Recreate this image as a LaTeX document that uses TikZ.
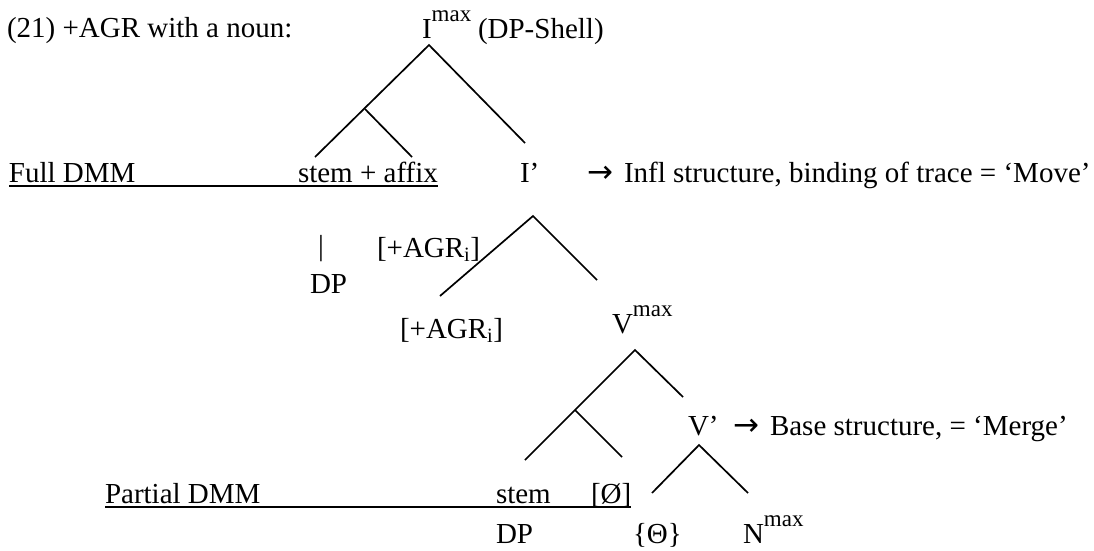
\documentclass[tikz,border=0pt]{standalone}
\usepackage{fontspec}
\setmainfont{Liberation Serif}
\newfontfamily\arrowfont{DejaVu Sans}
\newcommand\supx[1]{\raisebox{17pt}{\fontsize{23}{26}\selectfont #1}}
\begin{document}
\begin{tikzpicture}[x=1pt,y=-1pt,
  txt/.style={anchor=base west,inner sep=0pt,outer sep=0pt,font=\fontsize{29}{34}\selectfont},
  arrowsign/.style={anchor=base west,inner sep=0pt,outer sep=0pt,font=\fontsize{31}{34}\arrowfont},
  branch/.style={line width=1.7pt},
  uline/.style={line width=2.6pt}]
\useasboundingbox (0,0) rectangle (1094,550);

% ---- labels
\node[txt] (title) at (7,37) {(21) +AGR with a noun:};
\node[txt] (Imax) at (422,38) {I\supx{max}};
\node[txt] (shell) at (478,38) {(DP-Shell)};
\node[txt] (full) at (9,182) {Full DMM};
\node[txt] (stemaffix) at (298,182) {stem + affix};
\node[txt] (Ibar) at (520,182) {I’};
\node[arrowsign] (arr1) at (587,182) {→};
\node[txt] (move) at (624,182) {Infl structure, binding of trace = ‘Move’};
\node[txt] (bar) at (318,255) {|};
\node[txt] (agr1) at (377,257) {[+AGR\textsubscript{i}]};
\node[txt] (dp1) at (310,293) {DP};
\node[txt] (agr2) at (400,338) {[+AGR\textsubscript{i}]};
\node[txt] (Vmax) at (612,333) {V\supx{max}};
\node[txt] (Vbar) at (688,435) {V’};
\node[arrowsign] (arr2) at (733,435) {→};
\node[txt] (merge) at (770,435) {Base structure, = ‘Merge’};
\node[txt] (partial) at (105,503) {Partial DMM};
\node[txt] (stem) at (496,503) {stem};
\node[txt] (empty) at (591,503) {[Ø]};
\node[txt] (dp2) at (496,543) {DP};
\node[txt] (theta) at (633,543) {\{Θ\}};
\node[txt] (Nmax) at (743,543) {N\supx{max}};

% ---- underlines of the two DMM rows
\draw[uline] ([yshift=-4pt]full.base west) -- ([yshift=-4pt]stemaffix.base east);
\draw[uline] ([yshift=-4pt]partial.base west) -- ([yshift=-4pt]empty.base east);

% ---- branch points
\coordinate (imaxTop) at (429,45);
\coordinate (iLeft) at (315,157);
\coordinate (iJunc) at (365,109);
\coordinate (iSub) at (412,157);
\coordinate (iRight) at (525,143);

\coordinate (ibarTop) at (533,216);
\coordinate (ibarLeft) at (440,296);
\coordinate (ibarRight) at (597,280);

\coordinate (vmaxTop) at (635,350);
\coordinate (vLeft) at (525,460);
\coordinate (vJunc) at (575,410);
\coordinate (vSub) at (622,457);
\coordinate (vRight) at (683,397);

\coordinate (vbarTop) at (699,445);
\coordinate (vbarLeft) at (652,493);
\coordinate (vbarRight) at (748,493);

% ---- tree branches
\draw[branch] (iLeft) -- (imaxTop) -- (iRight);
\draw[branch] (iJunc) -- (iSub);
\draw[branch] (ibarLeft) -- (ibarTop) -- (ibarRight);
\draw[branch] (vLeft) -- (vmaxTop) -- (vRight);
\draw[branch] (vJunc) -- (vSub);
\draw[branch] (vbarLeft) -- (vbarTop) -- (vbarRight);
\end{tikzpicture}
\end{document}
